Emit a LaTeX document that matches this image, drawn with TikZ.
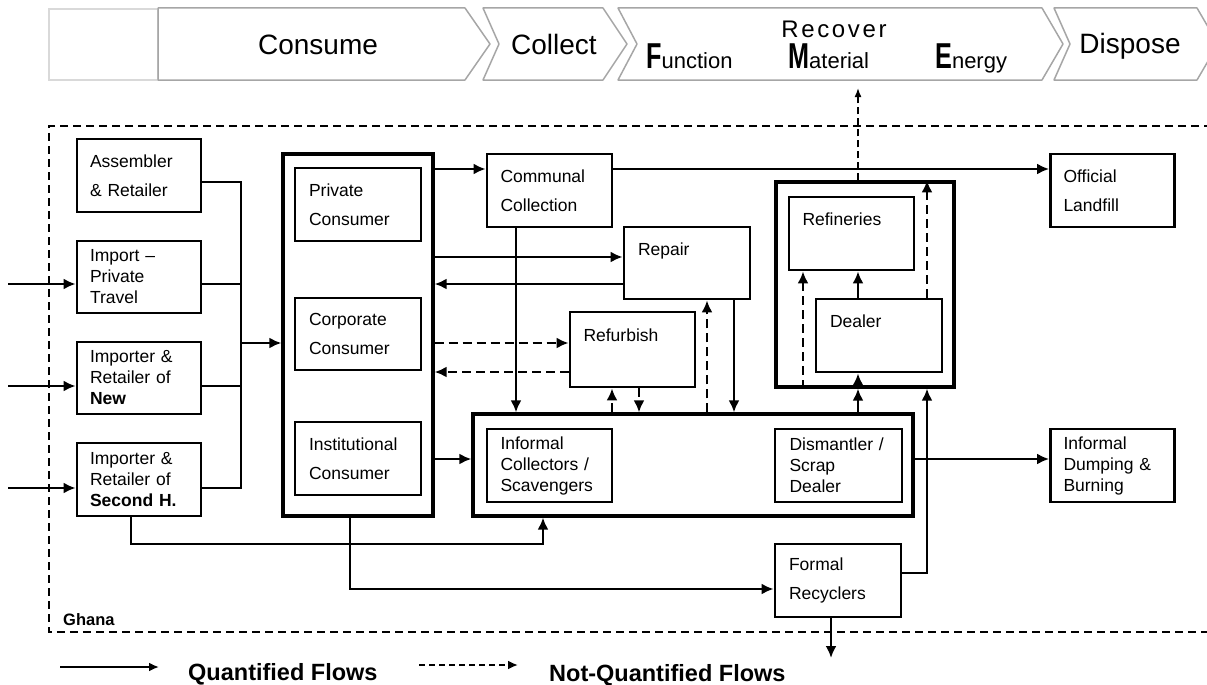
\documentclass[tikz,border=0pt]{standalone}
\usepackage{fontspec}
\setmainfont{Liberation Sans}
\newfontfamily\narrowsans[FakeStretch=0.7]{Liberation Sans}
\usetikzlibrary{arrows.meta}

\newcommand\capletter[1]{{\narrowsans\bfseries\fontsize{36}{36}\selectfont #1}}
\newcommand\restword[1]{{\fontsize{22}{22}\selectfont #1}}

\tikzset{
  box/.style 2 args={draw, line width=2.8pt, minimum width=#1, minimum height=#2,
    text width=98pt, inner xsep=13pt, inner ysep=0pt, align=left,
    font=\fontsize{17.5}{28.5}\selectfont},
  tbox/.style 2 args={box={#1}{#2}, font=\fontsize{17.5}{21}\selectfont},
  container/.style 2 args={draw, line width=3.2pt, minimum width=#1, minimum height=#2, inner sep=0pt},
  pipe/.style={line width=2.9pt},
  flow/.style={pipe, -{Latex[length=12pt,width=11pt]}},
  noflow/.style={flow, dash pattern=on 9pt off 5pt},
  stage/.style={draw=gray!70, line width=1.5pt, line join=round},
  stagetext/.style={font=\fontsize{28}{28}\selectfont, inner sep=0pt, anchor=base},
  boundary/.style={line width=2.2pt, dash pattern=on 8pt off 5pt},
  legendtext/.style={font=\bfseries\fontsize{23.5}{23.5}\selectfont, inner sep=0pt, anchor=base west}
}

\begin{document}
\begin{tikzpicture}[x=1pt,y=-1pt]
\useasboundingbox (0,0) rectangle (1207,685);
\clip (0,0) rectangle (1207,685);

% value chain
\draw[draw=gray!30, line width=1.5pt] (49,9) rectangle (158,80);
\draw[stage] (158,8) -- (465,8) -- (490,44) -- (465,80) -- (158,80) -- cycle;
\draw[stage] (483,8) -- (603,8) -- (627,44) -- (603,80) -- (483,80) -- (499,44) -- cycle;
\draw[stage] (618,8) -- (1042,8) -- (1063,44) -- (1042,80) -- (618,80) -- (637,44) -- cycle;
\draw[stage] (1054,8) -- (1197,8) -- (1218,44) -- (1197,80) -- (1054,80) -- (1070,44) -- cycle;
\node[stagetext] (consume) at (318,55) {Consume};
\node[stagetext] (collect) at (554,55) {Collect};
\node[stagetext, font=\fontsize{24}{24}\selectfont\addfontfeatures{LetterSpace=11}] (recover) at (834,38) {Recover};
\node[stagetext] (dispose) at (1130,54) {Dispose};
\node[anchor=base west, inner sep=0pt] (function) at (646,69) {\capletter{F}\restword{unction}};
\node[anchor=base west, inner sep=0pt] (material) at (788,69) {\capletter{M}\restword{aterial}};
\node[anchor=base west, inner sep=0pt] (energy) at (935,69) {\capletter{E}\restword{nergy}};

% Ghana
\draw[boundary] (1212,126) -- (49,126) -- (49,632) -- (1212,632);
\node[anchor=base west, inner sep=0pt, font=\bfseries\fontsize{16.5}{16.5}\selectfont] (ghana) at (63,625) {Ghana};

% sources
\node[box={124pt}{73pt}] (asm) at (139,175.5) {Assembler\\\& Retailer};
\node[tbox={124pt}{72pt}] (imp) at (139,277) {Import --\\Private\\Travel};
\node[tbox={124pt}{72pt}] (new) at (139,378) {Importer \&\\Retailer of\\\textbf{New}};
\node[tbox={124pt}{73pt}] (sec) at (139,479.5) {Importer \&\\Retailer of\\\textbf{Second H.}};

% consumers
\node[container={150pt}{362pt}] (cons) at (358,335) {};
\node[box={126pt}{73pt}] (priv) at (358,204.5) {Private\\Consumer};
\node[box={126pt}{72pt}] (corp) at (358,334) {Corporate\\Consumer};
\node[box={126pt}{73pt}] (inst) at (358,458.5) {Institutional\\Consumer};

% collection and reuse
\node[box={125pt}{73pt}] (comm) at (549.5,190.5) {Communal\\Collection};
\node[box={126pt}{72pt}] (repair) at (687,263) {Repair\\\mbox{}};
\node[box={125pt}{75pt}] (refurb) at (632.5,349.5) {Refurbish\\\mbox{}};
\node[container={440pt}{102pt}] (inf) at (693,465) {};
\node[tbox={125pt}{73pt}] (infcol) at (549.5,465.5) {Informal\\Collectors /\\Scavengers};
\node[tbox={127pt}{73pt}] (dism) at (838.5,465.5) {Dismantler /\\Scrap\\Dealer};
\node[box={126pt}{73pt}] (formal) at (838,580.5) {Formal\\Recyclers};

% recovery
\node[container={178pt}{205pt}] (recov) at (865,284.5) {};
\node[box={125pt}{73pt}] (refin) at (851.5,233.5) {Refineries\\\mbox{}};
\node[box={126pt}{73pt}] (dealer) at (879,335.5) {Dealer\\\mbox{}};

% disposal
\node[box={123pt}{73pt}] (landfill) at (1112.5,190.5) {Official\\Landfill};
\node[tbox={123pt}{73pt}] (dump) at (1112.5,465.5) {Informal\\Dumping \&\\Burning};

% flows into consumers
\coordinate (in1) at (8,284);
\coordinate (in2) at (8,386);
\coordinate (in3) at (8,488);
\draw[flow] (in1) -- (in1 -| imp.west);
\draw[flow] (in2) -- (in2 -| new.west);
\draw[flow] (in3) -- (in3 -| sec.west);
\coordinate (bus) at (241,343);
\draw[pipe] (asm.east |- 0,182) -| (bus);
\draw[pipe] (imp.east |- 0,284) -| (bus);
\draw[pipe] (new.east |- 0,386) -| (bus);
\draw[pipe] (sec.east |- 0,488) -| (bus);
\draw[flow] (bus) -- (bus -| cons.west);

% flows out of consumers
\draw[flow] (cons.east |- 0,169) -- (comm.west |- 0,169);
\draw[flow] (comm.east |- 0,169) -- (landfill.west |- 0,169);
\draw[flow] (cons.east |- 0,257) -- (repair.west |- 0,257);
\draw[flow] (repair.west |- 0,284) -- (cons.east |- 0,284);
\draw[noflow] (cons.east |- 0,343) -- (refurb.west |- 0,343);
\draw[noflow] (refurb.west |- 0,372) -- (cons.east |- 0,372);
\draw[flow] (cons.east |- 0,459) -- (inf.west |- 0,459);
\draw[flow] (131,0 |- sec.south) |- (543,544) -- (543,0 |- inf.south);
\draw[flow] (350,0 |- cons.south) |- (formal.west |- 0,589);

% collection, repair, refurbish
\draw[flow] (516,0 |- comm.south) -- (516,0 |- inf.north);
\draw[noflow] (612,0 |- inf.north) -- (612,0 |- refurb.south);
\draw[noflow] (639,0 |- refurb.south) -- (639,0 |- inf.north);
\draw[noflow] (707,0 |- inf.north) -- (707,0 |- repair.south);
\draw[flow] (734,0 |- repair.south) -- (734,0 |- inf.north);

% recovery and disposal
\draw[flow] (858,0 |- inf.north) -- (858,0 |- recov.south);
\draw[flow] (858,0 |- recov.south) -- (858,0 |- dealer.south);
\draw[flow] (858,0 |- dealer.north) -- (858,0 |- refin.south);
\draw[noflow] (803,0 |- recov.south) -- (803,0 |- refin.south);
\draw[noflow] (927,0 |- dealer.north) -- (927,0 |- recov.north);
\coordinate (export) at (858,88);
\draw[line width=1.6pt, dash pattern=on 7pt off 4pt, -{Latex[length=9pt,width=7pt]}] (858,0 |- recov.north) -- (export);
\draw[flow] (formal.east |- 0,573) -| (927,0 |- recov.south);
\draw[flow] (inf.east |- 0,459) -- (dump.west |- 0,459);
\coordinate (away) at (831,658);
\draw[flow] (831,0 |- formal.south) -- (away);

% legend
\coordinate (qa) at (60,667);
\coordinate (qb) at (159,667);
\coordinate (na) at (419,665);
\coordinate (nb) at (518,665);
\draw[line width=2.4pt, -{Latex[length=10pt,width=9pt]}] (qa) -- (qb);
\draw[line width=2.4pt, dash pattern=on 6pt off 4pt, -{Latex[length=10pt,width=9pt]}] (na) -- (nb);
\node[legendtext] (quant) at (188,680) {Quantified Flows};
\node[legendtext] (notquant) at (549,681) {Not-Quantified Flows};
\end{tikzpicture}
\end{document}
